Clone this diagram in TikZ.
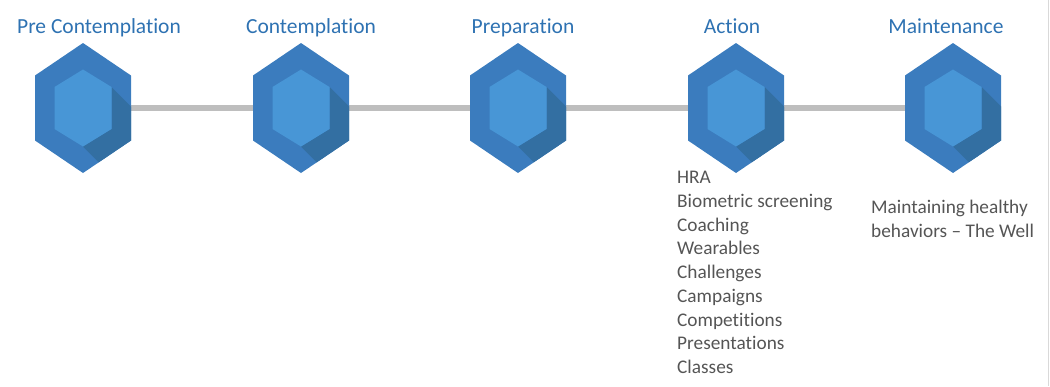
\documentclass[tikz,border=0pt]{standalone}
\usepackage{fontspec}
\setmainfont{Carlito}[Ligatures=NoCommon]
\usepackage{tikz}
\usetikzlibrary{calc,positioning}
\definecolor{hexout}{RGB}{59,124,190}
\definecolor{hexin}{RGB}{72,150,214}
\definecolor{hexshade}{RGB}{51,111,162}
\definecolor{stagecol}{RGB}{46,114,178}
\definecolor{bodycol}{RGB}{85,85,85}
\definecolor{linkcol}{RGB}{190,190,190}
\tikzset{
  stage/.style={font=\fontsize{21.5}{25}\selectfont, text=stagecol, inner sep=0pt, anchor=base},
  bodytext/.style={font=\fontsize{19.3}{23.75}\selectfont, text=bodycol, inner sep=0pt, align=left, anchor=north west},
  link/.style={linkcol, line width=6pt},
  hexa/.pic={
    \def\ow{48}\def\oh{65}\def\os{32.5}
    \def\iw{28.5}\def\ih{38.5}\def\is{21}
    %Outer
    \fill[hexout] (0,-\oh) -- (\ow,-\os) -- (\ow,\os) -- (0,\oh) -- (-\ow,\os) -- (-\ow,-\os) -- cycle;
    %Shade
    \begin{scope}
      \clip (0,-\oh) -- (\ow,-\os) -- (\ow,\os) -- (0,\oh) -- (-\ow,\os) -- (-\ow,-\os) -- cycle;
      \fill[hexshade] (\iw,-\is) -- ++(80,80) -- (80,\ih+80) -- (0,\ih) -- (\iw,\is) -- cycle;
    \end{scope}
    %Inner
    \fill[hexin] (0,-\ih) -- (\iw,-\is) -- (\iw,\is) -- (0,\ih) -- (-\iw,\is) -- (-\iw,-\is) -- cycle;
  }
}
\begin{document}
\begin{tikzpicture}[x=1pt,y=-1pt]
  \useasboundingbox (0,0) rectangle (1050,386);
  \def\cy{108}
  \coordinate (s1) at (83,\cy);
  \coordinate (s2) at (301,\cy);
  \coordinate (s3) at (518,\cy);
  \coordinate (s4) at (736,\cy);
  \coordinate (s5) at (953,\cy);
  %Links
  \foreach \a/\b in {s1/s2,s2/s3,s3/s4,s4/s5}
    \draw[link] (\a) -- (\b);
  %Hexagons
  \foreach \s in {s1,s2,s3,s4,s5}
    \pic at (\s) {hexa};
  %Titles
  \node[stage] (t1) at (99,33) {Pre Contemplation};
  \node[stage] (t2) at (311,33) {Contemplation};
  \node[stage] (t3) at (523,33) {Preparation};
  \node[stage] (t4) at (732,33) {Action};
  \node[stage] (t5) at (946,33) {Maintenance};
  %Notes
  \node[bodytext] (n4) at (677,171) {HRA\\Biometric screening\\Coaching\\Wearables\\Challenges\\Campaigns\\Competitions\\Presentations\\Classes};
  \node[bodytext] (n5) at (871,200) {Maintaining healthy\\behaviors -- The Well};
  %Frame
  \draw[black!15, line width=1pt] (1048,0) -- (1048,386);
\end{tikzpicture}
\end{document}
